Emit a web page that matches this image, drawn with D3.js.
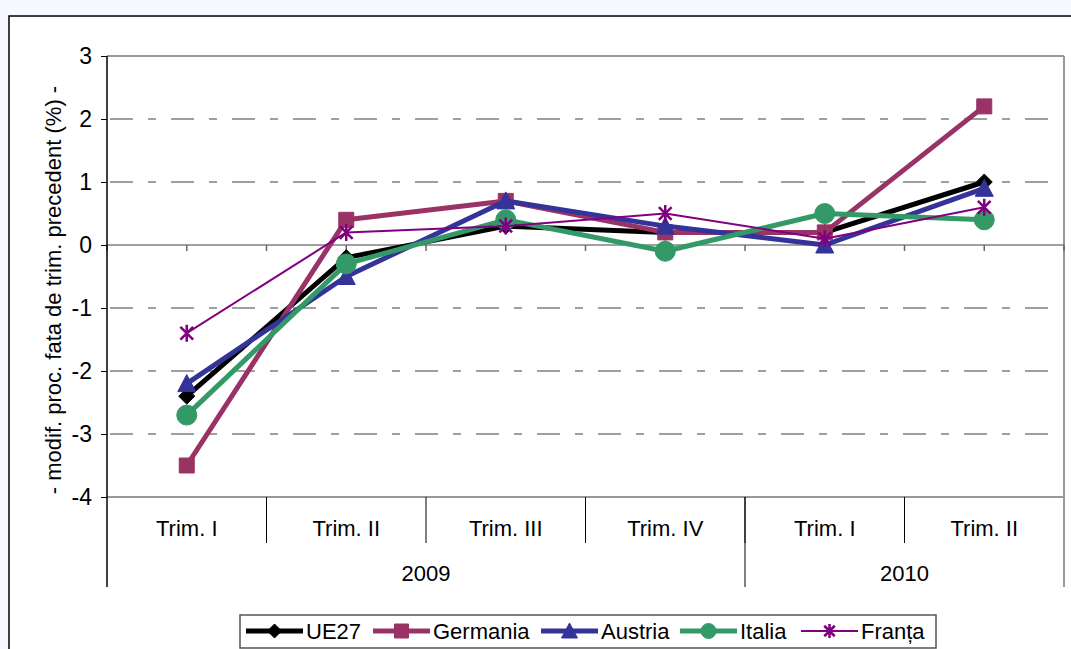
<!DOCTYPE html>
<html>
<head>
<meta charset="utf-8">
<script src="https://cdn.jsdelivr.net/npm/d3@7"></script>
<style>
  html, body { margin: 0; padding: 0; background: #f8f8ff; }
  svg { display: block; }
  text { font-family: "Liberation Sans", Arial, sans-serif; fill: #000; }
</style>
</head>
<body>
<script>
const quarters = ["Trim. I", "Trim. II", "Trim. III", "Trim. IV", "Trim. I", "Trim. II"];
const years = ["2009", "2010"];
const yearSpans = [4, 2];
const yTicks = [-4, -3, -2, -1, 0, 1, 2, 3];
const seriesNames = ["UE27", "Germania", "Austria", "Italia", "Franța"];
const ue27     = [-2.4, -0.2, 0.3, 0.2, 0.2, 1.0];
const germania = [-3.5, 0.4, 0.7, 0.2, 0.2, 2.2];
const austria  = [-2.2, -0.5, 0.7, 0.3, 0.0, 0.9];
const italia   = [-2.7, -0.3, 0.4, -0.1, 0.5, 0.4];
const franta   = [-1.4, 0.2, 0.3, 0.5, 0.1, 0.6];
const yTitle = "- modif. proc. fata de trim. precedent (%) -";

const W = 1071, H = 649;
const L = 107, R = 1064, T = 56, B = 497;

const svg = d3.select("body").append("svg").attr("width", W).attr("height", H);

// outer frame
svg.append("rect").attr("x", 9).attr("y", 16).attr("width", W + 10).attr("height", H + 10)
  .attr("fill", "#fff").attr("stroke", "#000").attr("stroke-width", 1.5);

const x = d3.scaleBand().domain(d3.range(quarters.length)).range([L, R]).padding(0);
const y = d3.scaleLinear().domain([-4, 3]).range([B, T]);
const cx = i => x(i) + x.bandwidth() / 2;

// gridlines (dash-dot)
svg.append("g").selectAll("line").data(yTicks.filter(d => d !== 0 && d !== 3 && d !== -4)).join("line")
  .attr("x1", L).attr("x2", R).attr("y1", d => y(d)).attr("y2", d => y(d))
  .attr("stroke", "#808080").attr("stroke-width", 1.5).attr("stroke-dasharray", "23,15,8,15")
  .attr("stroke-dashoffset", -3);

// top and right border of plot
svg.append("line").attr("x1", L).attr("x2", R).attr("y1", y(3)).attr("y2", y(3))
  .attr("stroke", "#999").attr("stroke-width", 2);
svg.append("line").attr("x1", R).attr("x2", R).attr("y1", y(3)).attr("y2", 587)
  .attr("stroke", "#999").attr("stroke-width", 2);
// bottom line at -4
svg.append("line").attr("x1", L).attr("x2", R).attr("y1", y(-4)).attr("y2", y(-4))
  .attr("stroke", "#999").attr("stroke-width", 2);

// zero axis with ticks
svg.append("line").attr("x1", L).attr("x2", R).attr("y1", y(0)).attr("y2", y(0))
  .attr("stroke", "#808080").attr("stroke-width", 1.5);
const zeroTicks = [];
for (let i = 0; i < quarters.length; i++) { zeroTicks.push(x(i)); zeroTicks.push(cx(i)); }
zeroTicks.push(R);
svg.append("g").selectAll("line").data(zeroTicks).join("line")
  .attr("x1", d => d).attr("x2", d => d).attr("y1", y(0)).attr("y2", y(0) + 6)
  .attr("stroke", "#666").attr("stroke-width", 1.5);

// y axis
const yAxis = d3.axisLeft(y).tickValues(yTicks).tickSize(6).tickPadding(9).tickFormat(d => String(d));
const gy = svg.append("g").attr("transform", `translate(${L},0)`).call(yAxis);
gy.select(".domain").remove();
gy.selectAll(".tick line").attr("stroke", "#000").attr("stroke-width", 1);
gy.selectAll(".tick text").attr("font-size", 23).attr("font-family", "Liberation Sans, Arial, sans-serif").attr("fill", "#000");
svg.append("line").attr("x1", L).attr("x2", L).attr("y1", T).attr("y2", 587)
  .attr("stroke", "#000").attr("stroke-width", 1.5);

// category separators
svg.append("g").selectAll("line").data(d3.range(1, quarters.length)).join("line")
  .attr("x1", d => x(d)).attr("x2", d => x(d)).attr("y1", B).attr("y2", 543)
  .attr("stroke", "#000").attr("stroke-width", 1);
// year separators
let acc = 0;
const yearBounds = yearSpans.map(s => { const a = acc; acc += s; return [a, acc]; });
svg.append("g").selectAll("line").data(yearBounds.slice(0, -1)).join("line")
  .attr("x1", d => x(d[1])).attr("x2", d => x(d[1])).attr("y1", B).attr("y2", 587)
  .attr("stroke", "#000").attr("stroke-width", 1);

// category labels
svg.append("g").selectAll("text").data(quarters).join("text")
  .attr("x", (d, i) => cx(i)).attr("y", 536).attr("text-anchor", "middle")
  .attr("font-size", 22).text(d => d);
svg.append("g").selectAll("text").data(years).join("text")
  .attr("x", (d, i) => (x(yearBounds[i][0]) + (yearBounds[i][1] < quarters.length ? x(yearBounds[i][1]) : R)) / 2)
  .attr("y", 581).attr("text-anchor", "middle").attr("font-size", 22).text(d => d);

// y title
svg.append("text").attr("transform", "translate(61,290) rotate(-90)")
  .attr("text-anchor", "middle").attr("font-size", 22).text(yTitle);

// marker paths
function markerPath(type, s) {
  const h = s / 2;
  if (type === "diamond") return `M0,${-h}L${h},0L0,${h}L${-h},0Z`;
  if (type === "square") return `M${-h},${-h}H${h}V${h}H${-h}Z`;
  if (type === "triangle") return `M0,${-h - 1}L${h + 1},${h}L${-h - 1},${h}Z`;
  if (type === "circle") return `M${h},0A${h},${h} 0 1,1 ${-h},0A${h},${h} 0 1,1 ${h},0Z`;
  if (type === "star") {
    const d = h * 0.75;
    return `M0,${-h}V${h}M${-d},${-d}L${d},${d}M${-d},${d}L${d},${-d}`;
  }
}

const series = [
  { name: seriesNames[0], values: ue27, color: "#000000", width: 5, marker: "diamond", size: 16 },
  { name: seriesNames[1], values: germania, color: "#993366", width: 5, marker: "square", size: 15 },
  { name: seriesNames[2], values: austria, color: "#333399", width: 5, marker: "triangle", size: 16 },
  { name: seriesNames[3], values: italia, color: "#339966", width: 5, marker: "circle", size: 20 },
  { name: seriesNames[4], values: franta, color: "#800080", width: 2, marker: "star", size: 17 }
];

const line = d3.line().x((d, i) => cx(i)).y(d => y(d));

series.forEach(s => {
  const g = svg.append("g");
  g.append("path").attr("d", line(s.values)).attr("fill", "none")
    .attr("stroke", s.color).attr("stroke-width", s.width).attr("stroke-linejoin", "round");
  g.selectAll("path.m").data(s.values).join("path").attr("class", "m")
    .attr("transform", (d, i) => `translate(${cx(i)},${y(d)})`)
    .attr("d", markerPath(s.marker, s.size))
    .attr("fill", s.marker === "star" ? "none" : s.color)
    .attr("stroke", s.color).attr("stroke-width", s.marker === "star" ? 2.5 : 1);
});

// legend
const lg = svg.append("g");
lg.append("rect").attr("x", 240).attr("y", 615).attr("width", 696).attr("height", 33)
  .attr("fill", "#fff").attr("stroke", "#555").attr("stroke-width", 1.5);
const legendX = [246, 373, 541, 680, 801];
series.forEach((s, i) => {
  const x0 = legendX[i], yc = 631;
  lg.append("line").attr("x1", x0).attr("x2", x0 + 57).attr("y1", yc).attr("y2", yc)
    .attr("stroke", s.color).attr("stroke-width", s.width);
  lg.append("path").attr("transform", `translate(${x0 + 28.5},${yc})`)
    .attr("d", markerPath(s.marker, s.marker === "circle" ? 15 : 14))
    .attr("fill", s.marker === "star" ? "none" : s.color)
    .attr("stroke", s.color).attr("stroke-width", s.marker === "star" ? 2.5 : 1);
  lg.append("text").attr("x", x0 + 60).attr("y", yc + 8).attr("font-size", 22).text(s.name);
});
</script>
</body>
</html>
